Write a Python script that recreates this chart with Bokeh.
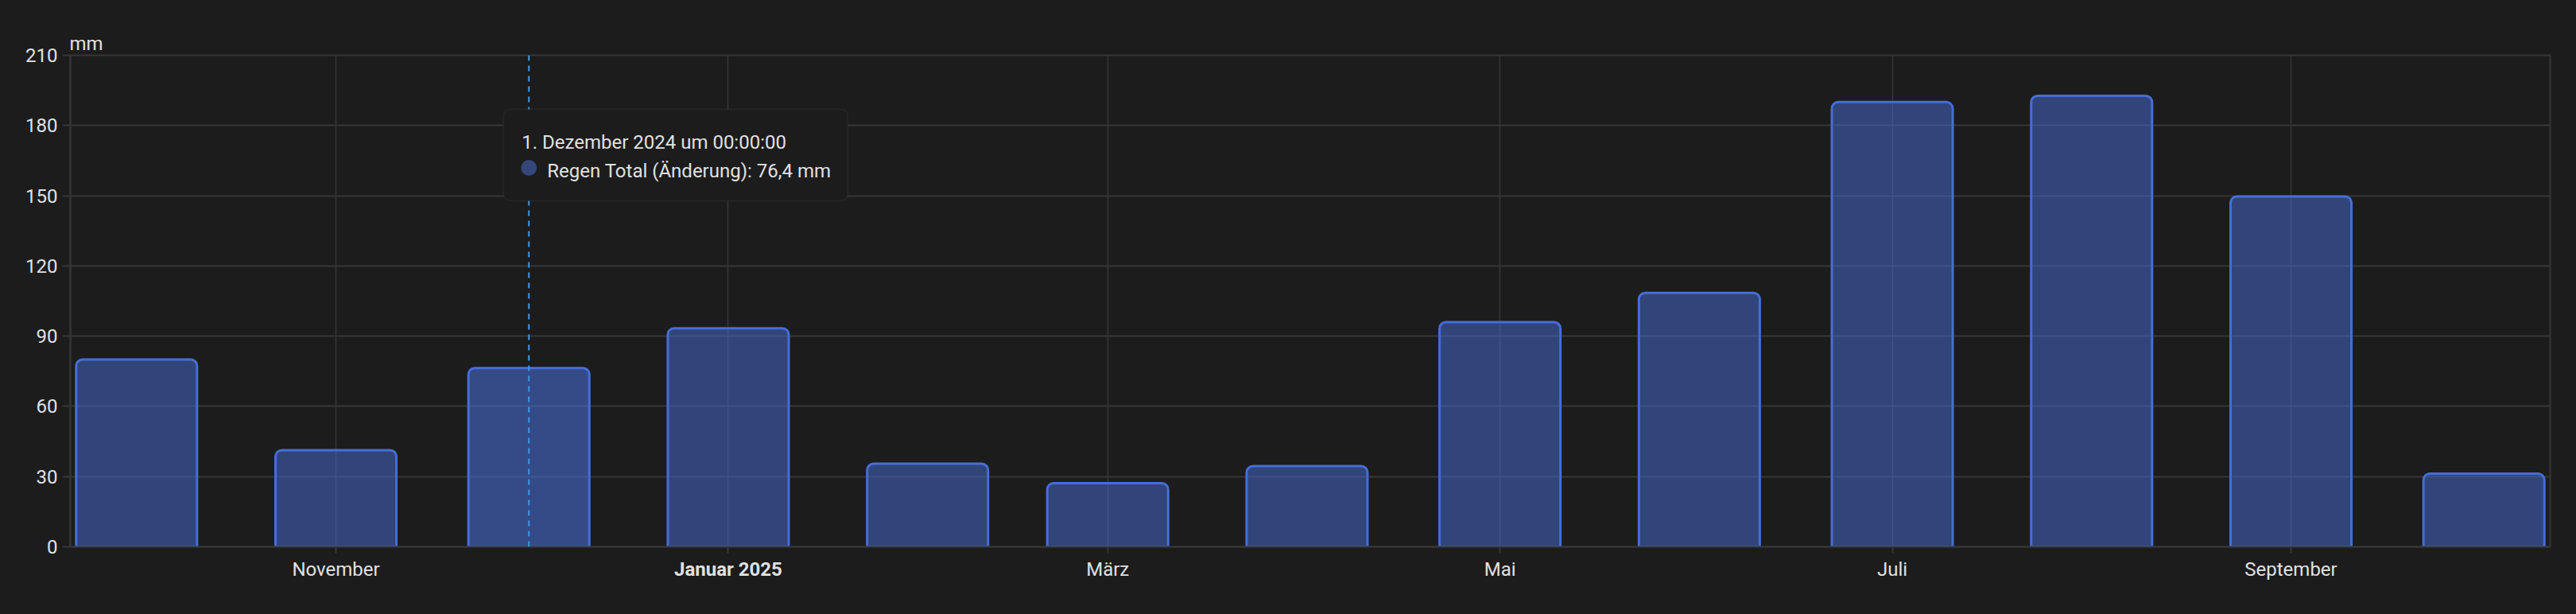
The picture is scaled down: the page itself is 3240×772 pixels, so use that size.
import pandas as pd
from bokeh.plotting import figure
from bokeh.models import (ColumnDataSource, Range1d, FixedTicker, Label, Span, Title,
                          BoxAnnotation, GlobalInlineStyleSheet)
from bokeh.embed import file_html
from bokeh.resources import INLINE

# ---------------- data ----------------
months = ["2024-10-01", "2024-11-01", "2024-12-01", "2025-01-01", "2025-02-01",
          "2025-03-01", "2025-04-01", "2025-05-01", "2025-06-01", "2025-07-01",
          "2025-08-01", "2025-09-01", "2025-10-01"]
rain_mm = [80.0, 41.3, 76.4, 93.4, 35.5, 27.2, 34.5, 96.0, 108.5, 190.0, 192.7, 149.7, 31.3]

tick_dates = ["2024-11-01", "2025-01-01", "2025-03-01", "2025-05-01", "2025-07-01", "2025-09-01"]
tick_labels = ["November", "Januar 2025", "März", "Mai", "Juli", "September"]
bold_tick = "Januar 2025"
y_ticks = [0, 30, 60, 90, 120, 150, 180, 210]
unit = "mm"
series_name = "Regen Total (Änderung)"
hover_index = 2  # 1. Dezember 2024

# ---------------- style ----------------
BG = "#1c1c1c"
GRID = "#363636"
TEXT = "#e1e1e1"
BAR = "#466ed7"
FONT = "Roboto"
DAY = 86400000.0

W, H = 3240, 772
ML, MR, MT, MB = 88, 33, 69, 85
FW, FH = W - ML - MR, H - MT - MB

def ms(d):
    return pd.Timestamp(d).value / 1e6

xs = [ms(m) for m in months]
x_start = xs[0] - 10.3 * DAY
x_end = xs[-1] + 10.3 * DAY
ms_per_px = (x_end - x_start) / FW
u_per_px = (y_ticks[-1] - y_ticks[0]) / FH

p = figure(width=W, height=H, x_axis_type="datetime",
           x_range=Range1d(x_start, x_end), y_range=Range1d(y_ticks[0], y_ticks[-1]),
           output_backend="svg", toolbar_location=None,
           min_border_left=ML, min_border_right=MR, min_border_top=MT, min_border_bottom=MB,
           background_fill_color=BG, border_fill_color=BG)
p.stylesheets = [GlobalInlineStyleSheet(css="html, body { background-color: #1c1c1c; }")]
p.outline_line_color = GRID
p.outline_line_width = 2

# unit title (top-left)
p.add_layout(Title(text=unit, align="left", text_font=FONT, text_font_size="24px",
                   text_font_style="normal", text_color=TEXT, standoff=2, offset=-1), "above")

# axes
tick_ms = [ms(t) for t in tick_dates]
jan_ms = tick_ms[tick_labels.index(bold_tick)]
p.xaxis.ticker = FixedTicker(ticks=tick_ms)
p.xaxis.major_label_overrides = {t: ("" if l == bold_tick else l) for t, l in zip(tick_ms, tick_labels)}
p.yaxis.ticker = FixedTicker(ticks=y_ticks)
for ax in (p.xaxis, p.yaxis):
    ax.axis_line_color = GRID
    ax.axis_line_width = 2
    ax.major_tick_line_color = GRID
    ax.major_tick_line_width = 2
    ax.major_tick_in = 0
    ax.minor_tick_line_color = None
    ax.major_label_text_color = TEXT
    ax.major_label_text_font = FONT
    ax.major_label_text_font_size = "24px"
p.xaxis.major_label_standoff = 6
p.xaxis.major_tick_out = 8
p.yaxis.major_tick_out = 10
p.yaxis.major_label_standoff = 6

# bold tick label, placed in the bottom side panel (not clipped to the frame)
p.add_layout(Label(x=jan_ms, y=y_ticks[0], y_offset=-14, text=bold_tick,
                   text_align="center", text_baseline="top", text_font=FONT,
                   text_font_size="24px", text_font_style="bold", text_color=TEXT), "below")

p.xgrid.grid_line_color = GRID
p.xgrid.grid_line_width = 1.5
p.ygrid.grid_line_color = GRID
p.ygrid.grid_line_width = 2

# bars
alphas = [0.58 if i == hover_index else 0.5 for i in range(len(xs))]
src = ColumnDataSource(dict(x=xs, top=rain_mm, alpha=alphas))
p.vbar(x="x", top="top", bottom=0, width=18.8 * DAY, source=src,
       fill_color=BAR, fill_alpha="alpha", line_color=BAR, line_width=3,
       border_radius=(8, 8, 0, 0))

# hover marker + tooltip
hx = xs[hover_index]
p.add_layout(Span(location=hx, dimension="height", line_color="#3d97e6",
                  line_dash="7 6", line_width=2))
top_px, bottom_px = 68, 183   # tooltip box offsets below frame top
p.add_layout(BoxAnnotation(left=hx - 32 * ms_per_px, right=hx + 401 * ms_per_px,
                           top=y_ticks[-1] - top_px * u_per_px,
                           bottom=y_ticks[-1] - bottom_px * u_per_px,
                           fill_color=BG, fill_alpha=1.0, line_color="#3a3a3a",
                           line_width=2, border_radius=8))
ts = pd.Timestamp(months[hover_index])
line1 = f"{ts.day}. Dezember {ts.year} um 00:00:00"
line2 = f"{series_name}: {str(rain_mm[hover_index]).replace('.', ',')} {unit}"
p.add_layout(Label(x=hx, y=y_ticks[-1] - 109.5 * u_per_px, x_offset=-9, text=line1,
                   text_baseline="alphabetic", text_font=FONT, text_font_size="24px",
                   text_color=TEXT))
p.add_layout(Label(x=hx, y=y_ticks[-1] - 145.5 * u_per_px, x_offset=23, text=line2,
                   text_baseline="alphabetic", text_font=FONT, text_font_size="24px",
                   text_color=TEXT))
p.scatter(x=[hx], y=[y_ticks[-1] - 141.5 * u_per_px], size=20, marker="circle",
          fill_color="#34467a", line_color=None, level="overlay")

open("out.html", "w").write(file_html(p, INLINE))
